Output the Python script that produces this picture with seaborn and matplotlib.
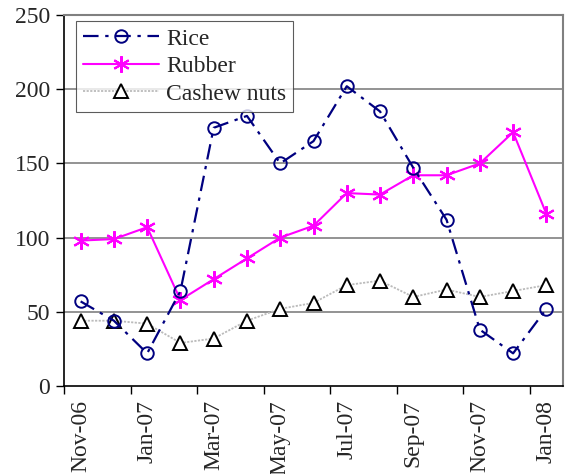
import matplotlib
matplotlib.use("Agg")
import matplotlib.pyplot as plt
import seaborn as sns
import pandas as pd
import numpy as np

months = ["Nov-06", "Dec-06", "Jan-07", "Feb-07", "Mar-07", "Apr-07", "May-07", "Jun-07",
          "Jul-07", "Aug-07", "Sep-07", "Oct-07", "Nov-07", "Dec-07", "Jan-08"]
rice = [57, 44, 22, 64, 174, 182, 150, 165, 202, 185, 147, 112, 38, 22, 52]
rubber = [98, 99, 107, 58, 72, 86, 100, 108, 130, 129, 142, 142, 150, 171, 116]
cashew = [44, 44, 42, 29, 32, 44, 52, 56, 68, 71, 60, 65, 60, 64, 68]

sns.set_theme(style="white")
plt.rcParams['font.family'] = ['Liberation Serif', 'DejaVu Serif']
FS = 17

fig = plt.figure(figsize=(5.65, 4.74), dpi=100)
ax = fig.add_axes([64/565, 1-386/474, (563-64)/565, (386-15)/474])

df = pd.DataFrame({"month": months, "Rice": rice, "Rubber": rubber, "Cashew nuts": cashew})
df["pos"] = np.arange(len(months))

sns.lineplot(data=df, x="pos", y="Cashew nuts", ax=ax, color="#BBBBBB", lw=1.3,
             linestyle=(0, (1.2, 0.8)), marker="^", markersize=10, markerfacecolor="white",
             markeredgecolor="black", markeredgewidth=1.4, label="Cashew nuts", zorder=3)
sns.lineplot(data=df, x="pos", y="Rubber", ax=ax, color="#FF00FF", lw=1.5,
             marker=(6, 2, 0), markersize=12, markeredgecolor="#FF00FF",
             markeredgewidth=1.5, label="Rubber", zorder=4)
sns.lineplot(data=df, x="pos", y="Rice", ax=ax, color="#000080", lw=1.6,
             linestyle=(0, (7, 3, 1.5, 3)), marker="o", markersize=9,
             markerfacecolor="none", markeredgecolor="#000080", markeredgewidth=1.4,
             label="Rice", zorder=5)

ax.set_xlim(-0.5, len(months) - 0.5)
ax.set_ylim(0, 250)
ax.set_yticks(np.arange(0, 251, 50))
ax.tick_params(axis='y', labelsize=FS, length=6, width=1, color='black', direction='out', left=True, pad=4)
ax.set_xticks(np.arange(0, len(months), 2))
ax.set_xticklabels(months[::2], rotation=90, fontsize=FS)
ax.set_xticks(np.arange(-0.5, len(months), 2), minor=True)
ax.tick_params(axis='x', which='major', length=0, pad=10)
ax.tick_params(axis='x', which='minor', length=6, width=1, color='black', direction='out', bottom=True)
ax.set_xlabel("")
ax.set_ylabel("")
for v in [50, 100, 150, 200]:
    ax.axhline(v, color="#808080", lw=1.2, zorder=1)

for s in ["top", "right"]:
    ax.spines[s].set_color("#808080")
    ax.spines[s].set_linewidth(1.5)
for s in ["left", "bottom"]:
    ax.spines[s].set_color("black")
    ax.spines[s].set_linewidth(1.2)

h, l = ax.get_legend_handles_labels()
order = [l.index("Rice"), l.index("Rubber"), l.index("Cashew nuts")]
leg = ax.legend([h[i] for i in order], [l[i] for i in order], loc="upper left",
                bbox_to_anchor=(0.02, 0.99), fontsize=FS, frameon=True, fancybox=False,
                handlelength=3.2, borderpad=0.3, labelspacing=0.25, handletextpad=0.3,
                borderaxespad=0.1)
leg.get_frame().set_edgecolor("#333333")
leg.get_frame().set_linewidth(0.8)

fig.savefig("out.png", dpi=100)
